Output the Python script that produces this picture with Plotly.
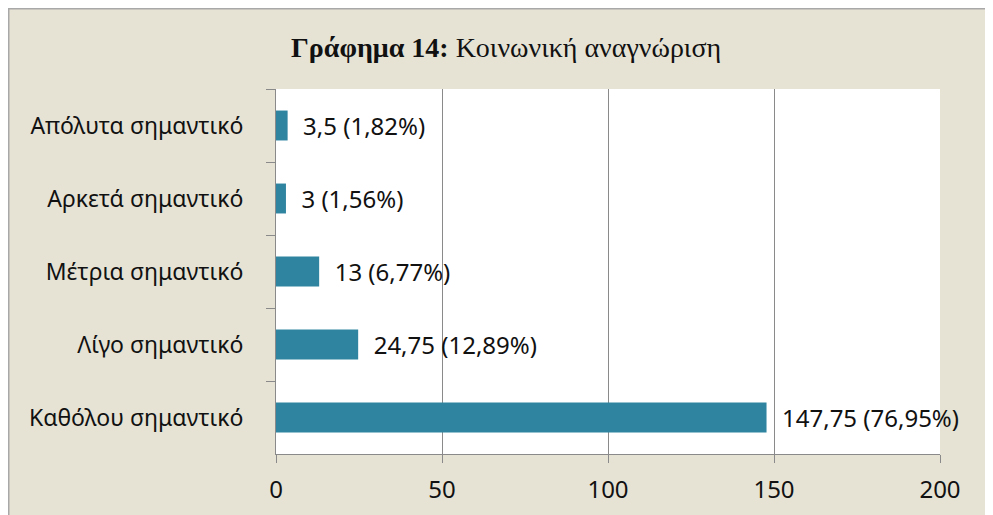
import plotly.graph_objects as go

categories = ["Απόλυτα σημαντικό", "Αρκετά σημαντικό", "Μέτρια σημαντικό",
              "Λίγο σημαντικό", "Καθόλου σημαντικό"]
values = [3.5, 3, 13, 24.75, 147.75]
labels = ["3,5 (1,82%)", "3 (1,56%)", "13 (6,77%)", "24,75 (12,89%)", "147,75 (76,95%)"]
x_ticks = [0, 50, 100, 150, 200]

# page body has an 8px margin; the figure is offset by it and runs past the window edge
OFF = 8
W, H = 993, 515
L, R, T, B = 276 - OFF, 940 - OFF, 89 - OFF, 454 - OFF

def px_x(p):
    return (p - L) / (R - L)

def px_y(p):
    return (B - p) / (B - T)

BEIGE = "#E6E3D5"
GRID = "#8A8A8A"

fig = go.Figure(go.Bar(
    y=categories, x=values, orientation="h",
    marker=dict(color="#2F84A0", line=dict(width=0)),
    text=["  " + t for t in labels], textposition="outside",
    constraintext="none",
    textfont=dict(family="Noto Sans", size=24, color="#111111"),
    cliponaxis=False, width=0.41,
))

fig.update_layout(
    width=W, height=H,
    margin=dict(l=L, r=W - R, t=T, b=H - B),
    paper_bgcolor=BEIGE, plot_bgcolor="white",
    showlegend=False,
    font=dict(family="Noto Sans", size=23, color="#111111"),
    shapes=[
        dict(type="rect", xref="paper", yref="paper", layer="above",
             x0=px_x(0.5), x1=px_x(W + 20), y0=px_y(H + 20), y1=px_y(0.5),
             fillcolor="rgba(0,0,0,0)", line=dict(color="#A8A8A8", width=2)),
    ],
    annotations=[dict(
        xref="paper", yref="paper", x=px_x(506 - OFF), y=px_y(47 - OFF),
        xanchor="center", yanchor="middle", showarrow=False,
        text="<b>Γράφημα 14:</b> Κοινωνική αναγνώριση",
        font=dict(family="Liberation Serif", size=28, color="#111111"),
    )],
)

fig.update_xaxes(
    range=[0, 200], tickvals=x_ticks, ticktext=[str(v) for v in x_ticks],
    showgrid=True, gridcolor=GRID, gridwidth=1,
    showline=True, linecolor=GRID, linewidth=1,
    ticks="outside", ticklen=8, tickcolor=GRID,
    ticklabelstandoff=6, zeroline=False,
    tickfont=dict(family="Noto Sans", size=24, color="#111111"),
)
fig.update_yaxes(
    autorange="reversed", showgrid=False,
    showline=True, linecolor=GRID, linewidth=1,
    ticks="outside", ticklen=9, tickcolor=GRID, tickson="boundaries",
    ticklabelstandoff=27,
    tickfont=dict(family="Noto Sans", size=23, color="#111111"),
)

fig.write_html(
    "out.html",
    post_script="document.documentElement.style.overflow='hidden';"
                "document.body.style.overflow='hidden';",
)
